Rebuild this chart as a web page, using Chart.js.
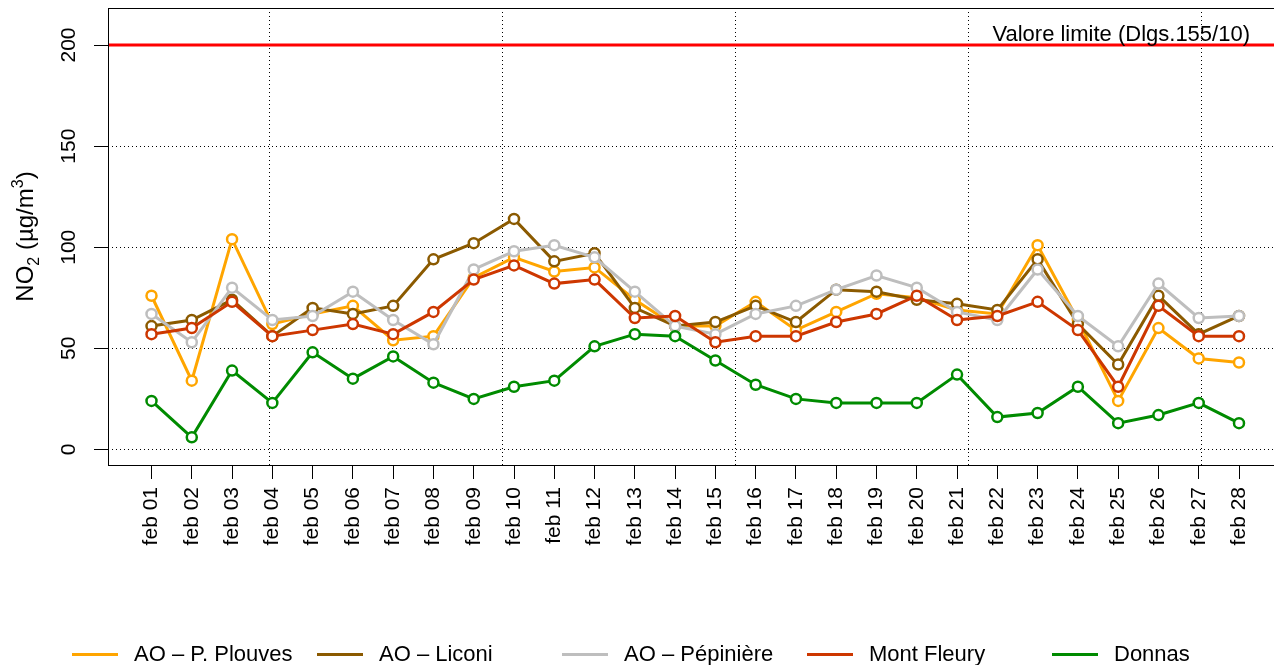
<!DOCTYPE html>
<html>
<head>
<meta charset="utf-8">
<script src="https://cdn.jsdelivr.net/npm/chart.js@4.4.1/dist/chart.umd.min.js"></script>
<style>
  html, body { margin: 0; padding: 0; background: #fff; overflow: hidden; }
  #wrap { position: relative; width: 1274px; height: 665px; overflow: hidden; }
  #chart { position: absolute; left: 0; top: 0; }
  #legend { position: absolute; left: 72px; top: 643px; display: flex;
            font: 22px "Liberation Sans", Arial, sans-serif; line-height: 22px; color: #000; }
  .item { width: 245px; display: flex; align-items: center; white-space: nowrap; }
  .swatch { width: 46px; height: 3px; margin-right: 16px; flex: none; }
</style>
</head>
<body>
<div id="wrap">
  <canvas id="chart" width="1290" height="665"></canvas>
  <div id="legend"></div>
</div>
<script>
const days = ['feb 01', 'feb 02', 'feb 03', 'feb 04', 'feb 05', 'feb 06', 'feb 07',
              'feb 08', 'feb 09', 'feb 10', 'feb 11', 'feb 12', 'feb 13', 'feb 14',
              'feb 15', 'feb 16', 'feb 17', 'feb 18', 'feb 19', 'feb 20', 'feb 21',
              'feb 22', 'feb 23', 'feb 24', 'feb 25', 'feb 26', 'feb 27', 'feb 28'];

const plouves    = [76, 34, 104, 62, 67, 71, 54, 56, 85, 95, 88, 90, 74, 61, 61, 73, 59, 68, 77, 75, 69, 67, 101, 64, 24, 60, 45, 43];
const liconi     = [61, 64, 74, 56, 70, 67, 71, 94, 102, 114, 93, 97, 70, 61, 63, 71, 63, 79, 78, 74, 72, 69, 94, 62, 42, 76, 57, 66];
const pepiniere  = [67, 53, 80, 64, 66, 78, 64, 52, 89, 98, 101, 95, 78, 61, 57, 67, 71, 79, 86, 80, 68, 64, 89, 66, 51, 82, 65, 66];
const montFleury = [57, 60, 73, 56, 59, 62, 57, 68, 84, 91, 82, 84, 65, 66, 53, 56, 56, 63, 67, 76, 64, 66, 73, 59, 31, 71, 56, 56];
const donnas     = [24, 6, 39, 23, 48, 35, 46, 33, 25, 31, 34, 51, 57, 56, 44, 32, 25, 23, 23, 23, 37, 16, 18, 31, 13, 17, 23, 13];

const seriesNames  = ['AO \u2013 P. Plouves', 'AO \u2013 Liconi', 'AO \u2013 P\u00e9pini\u00e8re', 'Mont Fleury', 'Donnas'];
const seriesValues = [plouves, liconi, pepiniere, montFleury, donnas];
const seriesColors = ['#FFA500', '#8B5A00', '#BEBEBE', '#CD3700', '#008B00'];

const yTicks = [0, 50, 100, 150, 200];
const limitValue = 200;
const limitLabel = 'Valore limite (Dlgs.155/10)';
// vertical dotted grid, in day units (1 = feb 01)
const vGrid = [3.92, 9.7, 15.49, 21.28, 27.06];

const FONT = '"Liberation Sans", Arial, sans-serif';

const frame = {
  id: 'frame',
  beforeDatasetsDraw(chart) {
    const { ctx, chartArea: a, scales: { x, y } } = chart;
    ctx.save();
    ctx.strokeStyle = '#000';
    ctx.lineWidth = 1;
    ctx.setLineDash([1, 3]);
    yTicks.forEach(v => {
      const py = Math.round(y.getPixelForValue(v)) + 0.5;
      ctx.beginPath(); ctx.moveTo(a.left, py); ctx.lineTo(a.right, py); ctx.stroke();
    });
    vGrid.forEach(v => {
      const px = Math.round(x.getPixelForValue(v)) + 0.5;
      ctx.beginPath(); ctx.moveTo(px, a.top); ctx.lineTo(px, a.bottom); ctx.stroke();
    });
    ctx.setLineDash([]);
    // limit line
    const ly = y.getPixelForValue(limitValue);
    ctx.strokeStyle = '#FF0000';
    ctx.lineWidth = 3;
    ctx.beginPath(); ctx.moveTo(a.left, ly); ctx.lineTo(a.right, ly); ctx.stroke();
    ctx.fillStyle = '#000';
    ctx.font = '22px ' + FONT;
    ctx.textAlign = 'right';
    ctx.textBaseline = 'alphabetic';
    ctx.fillText(limitLabel, 1250, ly - 4);
    ctx.restore();
  },
  afterDatasetsDraw(chart) {
    const { ctx, chartArea: a, scales: { y } } = chart;
    ctx.save();
    ctx.strokeStyle = '#000';
    ctx.lineWidth = 1;
    ctx.strokeRect(a.left + 0.5, a.top + 0.5, a.right - a.left, a.bottom - a.top);

    // y tick labels, rotated
    ctx.fillStyle = '#000';
    ctx.font = '21px ' + FONT;
    ctx.textAlign = 'center';
    ctx.textBaseline = 'alphabetic';
    yTicks.forEach(v => {
      ctx.save();
      ctx.translate(75, y.getPixelForValue(v));
      ctx.rotate(-Math.PI / 2);
      ctx.fillText(String(v), 0, 0);
      ctx.restore();
    });

    // y title NO2 (µg/m3)
    const parts = [['NO', 0, 24], ['2', 6, 16], [' (\u00b5g/m', 0, 24], ['3', -10, 16], [')', 0, 24]];
    let total = 0;
    parts.forEach(p => { ctx.font = p[2] + 'px ' + FONT; total += ctx.measureText(p[0]).width; });
    ctx.translate(33, (a.top + a.bottom) / 2);
    ctx.rotate(-Math.PI / 2);
    ctx.textAlign = 'left';
    let cx = -total / 2;
    parts.forEach(p => {
      ctx.font = p[2] + 'px ' + FONT;
      ctx.fillText(p[0], cx, p[1]);
      cx += ctx.measureText(p[0]).width;
    });
    ctx.restore();
  }
};

const ctx = document.getElementById('chart').getContext('2d');
const chart = new Chart(ctx, {
  type: 'line',
  data: {
    datasets: seriesValues.map((vals, i) => ({
      label: seriesNames[i],
      data: vals.map((v, j) => ({ x: j + 1, y: v })),
      borderColor: seriesColors[i],
      borderWidth: 3,
      pointRadius: 5,
      pointBorderWidth: 2.5,
      pointBorderColor: seriesColors[i],
      pointBackgroundColor: '#fff',
      tension: 0,
      order: 4 - i
    }))
  },
  options: {
    responsive: false,
    animation: false,
    devicePixelRatio: 1,
    layout: { padding: { left: 0, right: 5, top: 8, bottom: 0 } },
    plugins: { legend: { display: false }, tooltip: { enabled: false } },
    scales: {
      x: {
        type: 'linear',
        min: -0.08,
        max: 29.08,
        afterBuildTicks: s => { s.ticks = days.map((d, i) => ({ value: i + 1 })); },
        afterFit: s => { s.height = 200; },
        ticks: {
          autoSkip: false,
          minRotation: 90,
          maxRotation: 90,
          padding: 8,
          color: '#000',
          font: { family: FONT, size: 21 },
          callback: v => days[v - 1]
        },
        grid: { drawOnChartArea: false, tickLength: 14, color: '#000', lineWidth: 1 },
        border: { display: false }
      },
      y: {
        min: -7.7,
        max: 218.3,
        afterBuildTicks: s => { s.ticks = yTicks.map(v => ({ value: v })); },
        afterFit: s => { s.width = 108; },
        ticks: { display: false },
        grid: { drawOnChartArea: false, tickLength: 14, color: '#000', lineWidth: 1 },
        border: { display: false }
      }
    }
  },
  plugins: [frame]
});

const legend = document.getElementById('legend');
seriesNames.forEach((name, i) => {
  const item = document.createElement('div');
  item.className = 'item';
  const sw = document.createElement('span');
  sw.className = 'swatch';
  sw.style.background = seriesColors[i];
  const txt = document.createElement('span');
  txt.textContent = name;
  item.appendChild(sw);
  item.appendChild(txt);
  legend.appendChild(item);
});
</script>
</body>
</html>
